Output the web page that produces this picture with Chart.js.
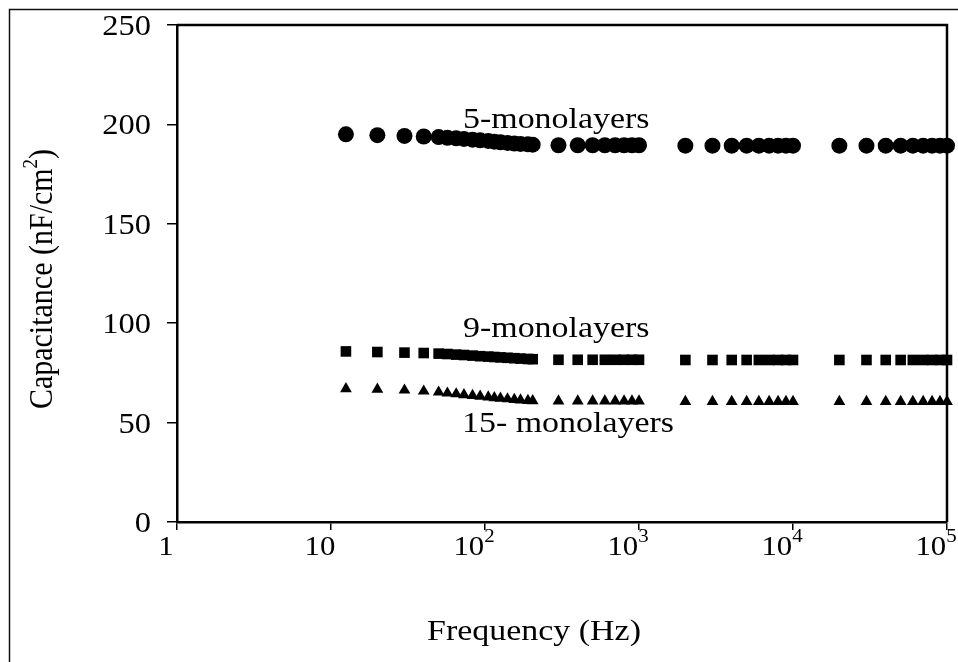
<!DOCTYPE html>
<html>
<head>
<meta charset="utf-8">
<script src="https://cdn.jsdelivr.net/npm/chart.js@4.4.1/dist/chart.umd.min.js"></script>
<style>
html,body{margin:0;padding:0;background:#fff;}
#wrap{width:958px;height:662px;position:relative;}
</style>
</head>
<body>
<div id="wrap"><canvas id="c" width="958" height="662"></canvas></div>
<script>
// ---- data ----
const frequencies = [12.5,20,30,40,50,57,65,73,83,93,105,115,126,140,155,170,190,204,
  300,400,500,600,700,800,900,1000,
  2000,3000,4000,5000,6000,7000,8000,9000,10000,
  20000,30000,40000,50000,60000,70000,80000,90000,100000];
const mono5 = [195,194.6,194.2,193.9,193.6,193.3,193,192.7,192.3,192,191.7,191.3,191,190.7,190.4,190.2,190,189.8,
  189.5,189.5,189.5,189.5,189.5,189.5,189.5,189.5,
  189.3,189.3,189.3,189.3,189.3,189.3,189.3,189.3,189.3,
  189.3,189.3,189.3,189.3,189.3,189.3,189.3,189.3,189.3];
const mono9 = [85.8,85.5,85.2,85,84.7,84.5,84.2,84,83.7,83.4,83.2,83,82.8,82.6,82.4,82.2,82,81.9,
  81.6,81.6,81.6,81.6,81.6,81.6,81.6,81.6,
  81.5,81.5,81.5,81.5,81.5,81.5,81.5,81.5,81.5,
  81.5,81.5,81.5,81.5,81.5,81.5,81.5,81.5,81.5];
const mono15 = [67,66.7,66.3,65.8,65.3,64.8,64.4,64,63.6,63.2,62.8,62.5,62.2,61.9,61.6,61.3,61.1,61,
  60.8,60.8,60.8,60.8,60.8,60.8,60.8,60.8,
  60.6,60.6,60.6,60.6,60.6,60.6,60.6,60.6,60.6,
  60.6,60.6,60.6,60.6,60.6,60.6,60.6,60.6,60.6];
const seriesNames = ['5-monolayers','9-monolayers','15- monolayers'];
const xTickExponents = [0,1,2,3,4,5];
const yTicks = [0,50,100,150,200,250];
const xTitle = 'Frequency (Hz)';
const yTitleMain = 'Capacitance (nF/cm';
const yTitleSup = '2';
const yTitleEnd = ')';

// ---- helpers ----
const SERIF = '"Liberation Serif","Times New Roman",serif';
function txt(ctx, s, x, y, size, align, sx) {
  ctx.save();
  ctx.font = size + 'px ' + SERIF;
  const w = ctx.measureText(s).width * sx;
  const left = align === 'right' ? x - w : (align === 'center' ? x - w / 2 : x);
  ctx.translate(left, y);
  ctx.scale(sx, 1);
  ctx.textAlign = 'left';
  ctx.textBaseline = 'alphabetic';
  ctx.fillStyle = '#000';
  ctx.fillText(s, 0, 0);
  ctx.restore();
  return w;
}
function measure(ctx, s, size, sx) {
  ctx.save();
  ctx.font = size + 'px ' + SERIF;
  const w = ctx.measureText(s).width * sx;
  ctx.restore();
  return w;
}
const pts = vals => frequencies.map((f, i) => ({x: f, y: vals[i]}));

const decor = {
  id: 'decor',
  afterDraw(chart) {
    const ctx = chart.ctx;
    const a = chart.chartArea;
    const xs = chart.scales.x, ys = chart.scales.y;
    ctx.save();
    // outer figure frame
    ctx.strokeStyle = '#111';
    ctx.lineWidth = 1.5;
    ctx.beginPath();
    ctx.moveTo(9.5, 662); ctx.lineTo(9.5, 9.5); ctx.lineTo(958, 9.5);
    ctx.stroke();
    // plot box top/right
    ctx.strokeStyle = '#000';
    ctx.lineWidth = 2.5;
    ctx.beginPath();
    ctx.moveTo(a.left, a.top); ctx.lineTo(a.right, a.top); ctx.lineTo(a.right, a.bottom);
    ctx.stroke();
    ctx.restore();

    // y tick labels
    yTicks.forEach(v => {
      const y = ys.getPixelForValue(v);
      txt(ctx, String(v), 151, y + 10, 29, 'right', 1.12);
    });
    // x tick labels
    xTickExponents.forEach(e => {
      const x = xs.getPixelForValue(Math.pow(10, e));
      const base = e === 0 ? '1' : '10';
      const sup = e >= 2 ? String(e) : '';
      const wb = measure(ctx, base, 28, 1.1);
      const ws = sup ? measure(ctx, sup, 19, 1.1) : 0;
      const left = x - 11 - (wb + ws) / 2;
      txt(ctx, base, left, 555, 28, 'left', 1.1);
      if (sup) txt(ctx, sup, left + wb, 542, 19, 'left', 1.1);
    });
    // x title
    txt(ctx, xTitle, 534, 640, 29, 'center', 1.17);
    // y title (rotated)
    ctx.save();
    ctx.translate(52, 279);
    ctx.rotate(-Math.PI / 2);
    ctx.scale(1, 1.1);
    ctx.fillStyle = '#000';
    ctx.font = '30px ' + SERIF;
    const w1 = ctx.measureText(yTitleMain).width;
    ctx.font = '19px ' + SERIF;
    const w2 = ctx.measureText(yTitleSup).width;
    ctx.font = '30px ' + SERIF;
    const w3 = ctx.measureText(yTitleEnd).width;
    const sx0 = -(w1 + w2 + w3) / 2;
    ctx.textAlign = 'left';
    ctx.fillText(yTitleMain, sx0, 0);
    ctx.font = '19px ' + SERIF;
    ctx.fillText(yTitleSup, sx0 + w1, -14);
    ctx.font = '30px ' + SERIF;
    ctx.fillText(yTitleEnd, sx0 + w1 + w2, 0);
    ctx.restore();
    // series annotations
    txt(ctx, seriesNames[0], 463, 128, 29, 'left', 1.17);
    txt(ctx, seriesNames[1], 463, 337, 29, 'left', 1.17);
    txt(ctx, seriesNames[2], 462, 432, 29, 'left', 1.17);
  }
};

new Chart(document.getElementById('c'), {
  type: 'scatter',
  data: {
    datasets: [
      {label: seriesNames[0], data: pts(mono5), pointStyle: 'circle', pointRadius: 8,
       backgroundColor: '#000', borderColor: '#000', borderWidth: 0, showLine: false, clip: false},
      {label: seriesNames[1], data: pts(mono9), pointStyle: 'rect', pointRadius: 7.5,
       backgroundColor: '#000', borderColor: '#000', borderWidth: 0, showLine: false, clip: false},
      {label: seriesNames[2], data: pts(mono15), pointStyle: 'triangle', pointRadius: 6.8,
       backgroundColor: '#000', borderColor: '#000', borderWidth: 0, showLine: false, clip: false}
    ]
  },
  options: {
    responsive: false,
    animation: false,
    devicePixelRatio: 1,
    events: [],
    layout: {padding: {top: 25, right: 11, left: 0, bottom: 0}},
    plugins: {legend: {display: false}, tooltip: {enabled: false}},
    scales: {
      x: {
        type: 'logarithmic',
        min: 1, max: 100000,
        border: {display: true, color: '#000', width: 2.5},
        grid: {drawOnChartArea: false, drawTicks: true, tickLength: 8, color: '#000', lineWidth: 1.5},
        ticks: {display: false},
        afterBuildTicks: s => { s.ticks = xTickExponents.map(e => ({value: Math.pow(10, e)})); },
        afterFit: s => { s.height = 140; }
      },
      y: {
        type: 'linear',
        min: 0, max: 250,
        border: {display: true, color: '#000', width: 2.5},
        grid: {drawOnChartArea: false, drawTicks: true, tickLength: 10, color: '#000', lineWidth: 1.5},
        ticks: {display: false},
        afterBuildTicks: s => { s.ticks = yTicks.map(v => ({value: v})); },
        afterFit: s => { s.width = 177; }
      }
    }
  },
  plugins: [decor]
});
</script>
</body>
</html>
